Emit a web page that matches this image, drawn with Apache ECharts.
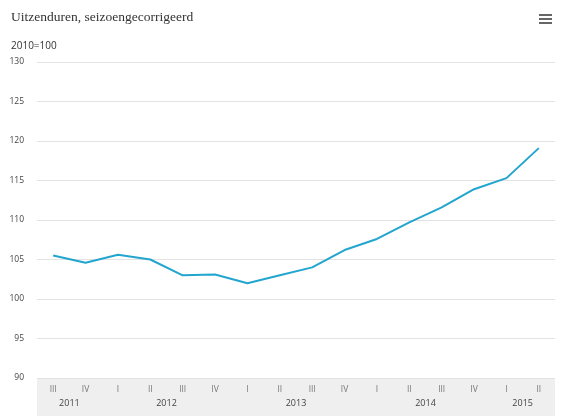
<!DOCTYPE html>
<html><head><meta charset="utf-8">
<script src="https://cdn.jsdelivr.net/npm/echarts@6/dist/echarts.min.js"></script>
<style>html,body{margin:0;padding:0;background:#fff}#c{width:562px;height:416px}</style>
</head><body><div id="c"></div>
<script>
const quarters = ['III','IV','I','II','III','IV','I','II','III','IV','I','II','III','IV','I','II'];
const quarterYears = ['2011','2011','2012','2012','2012','2012','2013','2013','2013','2013','2014','2014','2014','2014','2015','2015'];
const years = ['2011','2012','2013','2014','2015'];
const values = [105.5,104.6,105.6,105.0,103.0,103.1,102.0,103.0,104.0,106.2,107.6,109.7,111.6,113.9,115.3,119.1];
const yTicks = [90,95,100,105,110,115,120,125,130];

// centre of each year's group of quarters, in band units
const yearCentre = {};
years.forEach(y => {
  const idx = quarterYears.map((q,i)=>q===y?i:-1).filter(i=>i>=0);
  yearCentre[(idx[0] + idx[idx.length-1] + 1) / 2] = y;
});

const chart = echarts.init(document.getElementById('c'), null, {renderer:'canvas'});
chart.setOption({
  animation:false,
  backgroundColor:'#fff',
  title:{
    text:'Uitzenduren, seizoengecorrigeerd',
    left:11, top:10, padding:0,
    textStyle:{fontFamily:'Liberation Serif', fontSize:13.5, fontWeight:'normal', color:'#333'}
  },
  graphic:[
    {type:'rect', left:37, top:378, shape:{width:518, height:38}, style:{fill:'#efefef'}, z:-1},
    {type:'text', left:11, top:41, style:{text:'2010=100', font:'10px "Open Sans"', fill:'#333'}},
    {type:'group', left:539, top:14, children:[
      {type:'rect', shape:{x:0,y:0,width:13,height:2}, style:{fill:'#666'}},
      {type:'rect', shape:{x:0,y:4,width:13,height:2}, style:{fill:'#666'}},
      {type:'rect', shape:{x:0,y:8,width:13,height:2}, style:{fill:'#666'}}
    ]}
  ],
  grid:{left:37, right:7, top:62, bottom:38, containLabel:false},
  xAxis:[{
    type:'category', data:quarters, boundaryGap:true,
    axisLine:{show:false}, axisTick:{show:false},
    axisLabel:{fontFamily:'Open Sans', fontSize:8.5, color:'#777', margin:7}
  },{
    type:'value', position:'bottom', min:0, max:quarters.length, interval:0.5,
    axisLine:{show:false}, axisTick:{show:false}, splitLine:{show:false},
    axisLabel:{fontFamily:'Open Sans', fontSize:9, color:'#444', margin:21,
      showMinLabel:true, showMaxLabel:true,
      formatter:v => yearCentre[v] || ''}
  }],
  yAxis:{
    type:'value', min:yTicks[0], max:yTicks[yTicks.length-1], interval:5,
    axisLine:{show:false}, axisTick:{show:false},
    axisLabel:{fontFamily:'Open Sans', fontSize:8.5, color:'#444', margin:13},
    splitLine:{lineStyle:{color:'#e3e3e3', width:1}}
  },
  series:[{
    type:'line', data:values, xAxisIndex:0,
    symbol:'none', lineStyle:{color:'#22a5cf', width:2}, itemStyle:{color:'#22a5cf'}
  }]
});
</script></body></html>
